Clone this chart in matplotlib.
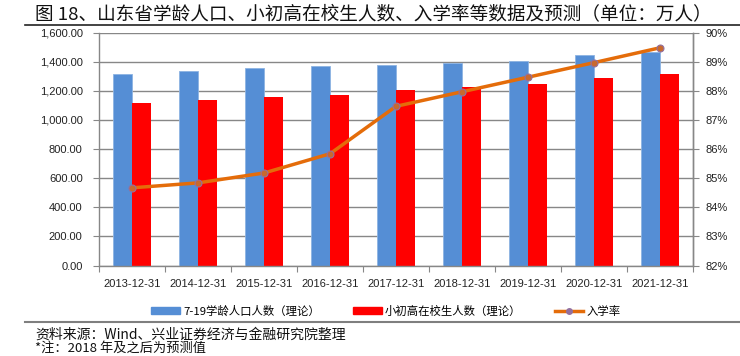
import matplotlib
matplotlib.use("Agg")
import matplotlib.pyplot as plt
import numpy as np
from matplotlib.lines import Line2D

plt.rcParams['font.family'] = ['Liberation Sans', 'Noto Sans CJK SC', 'DejaVu Sans']

categories = ["2013-12-31", "2014-12-31", "2015-12-31", "2016-12-31", "2017-12-31",
              "2018-12-31", "2019-12-31", "2020-12-31", "2021-12-31"]
population = [1315, 1336, 1357, 1370, 1377, 1391, 1405, 1446, 1467]
students = [1115, 1136, 1157, 1170, 1205, 1228, 1246, 1287, 1317]
enroll_rate = [84.67, 84.84, 85.18, 85.84, 87.47, 87.97, 88.47, 88.97, 89.48]

left_ticks = [0, 200, 400, 600, 800, 1000, 1200, 1400, 1600]
right_ticks = [82, 83, 84, 85, 86, 87, 88, 89, 90]

title = "图 18、山东省学龄人口、小初高在校生人数、入学率等数据及预测（单位：万人）"
source = "资料来源：Wind、兴业证券经济与金融研究院整理"
note = "*注：2018 年及之后为预测值"
legend_labels = ["7-19学龄人口人数（理论）", "小初高在校生人数（理论）", "入学率"]

W, H = 740, 356
fig = plt.figure(figsize=(W / 100, H / 100), dpi=100)

ax_l, ax_r, ax_t, ax_b = 99.3, 692.7, 32.7, 265.5
ax = fig.add_axes([ax_l / W, 1 - ax_b / H, (ax_r - ax_l) / W, (ax_b - ax_t) / H])

blue = '#558ED5'
red = '#FF0000'
orange = '#E46C0A'
grid = '#878787'

x = np.arange(len(categories))
bw = 0.29
ax.bar(x - bw / 2, population, width=bw, color=blue, edgecolor='#8DB3E2', linewidth=0.6, zorder=2)
ax.bar(x + bw / 2, students, width=bw, color=red, zorder=2)

ax.set_xlim(-0.5, len(categories) - 0.5)
ax.set_ylim(0, 1600)
ax.set_yticks(left_ticks)
ax.set_yticklabels([f"{v:,.2f}" for v in left_ticks])
ax.yaxis.grid(True, color=grid, linewidth=1.0, zorder=0)
ax.set_axisbelow(True)

ax.set_xticks(np.arange(len(categories) + 1) - 0.5)
ax.set_xticklabels([])
ax.set_xticks(x, minor=True)
ax.set_xticklabels(categories, minor=True)
ax.tick_params(axis='x', which='major', length=4, color=grid, direction='out')
ax.tick_params(axis='x', which='minor', length=0, pad=10, labelsize=8, labelcolor='#222222')
ax.tick_params(axis='y', length=4, color=grid, pad=8, labelsize=8, labelcolor='#222222')

ax.spines['top'].set_visible(False)
for s in ['left', 'bottom', 'right']:
    ax.spines[s].set_color(grid)
    ax.spines[s].set_linewidth(1.0)

ax2 = ax.twinx()
ax2.plot(x, enroll_rate, color=orange, linewidth=2.5, marker='o', markersize=5,
         markerfacecolor='#C8692F', markeredgecolor='#9270A0', markeredgewidth=0.8, zorder=5)
ax2.set_ylim(82, 90)
ax2.set_yticks(right_ticks)
ax2.set_yticklabels([f"{v}%" for v in right_ticks])
ax2.tick_params(axis='y', length=4, color=grid, pad=5, labelsize=8, labelcolor='#222222')
for s in ['top', 'left', 'bottom']:
    ax2.spines[s].set_visible(False)
ax2.spines['right'].set_color(grid)
ax2.spines['right'].set_linewidth(1.0)

# Legend
handles = [
    plt.Rectangle((0, 0), 1, 1, color=blue),
    plt.Rectangle((0, 0), 1, 1, color=red),
    Line2D([0], [0], color=orange, linewidth=2.5, marker='o', markersize=4,
           markerfacecolor='#9270A0', markeredgecolor='#9270A0'),
]
fig.legend(handles, legend_labels, loc='center', bbox_to_anchor=(386 / W, 1 - 311 / H),
           ncol=3, frameon=False, handlelength=2.5, handleheight=0.55,
           handletextpad=0.3, columnspacing=2.9,
           prop={'family': ['Noto Sans CJK SC', 'DejaVu Sans'], 'size': 8.2})

# Title and lines
fig.text(35 / W, 1 - 14 / H, title, fontsize=13.4, va='center', ha='left',
         family=['Noto Sans CJK SC', 'DejaVu Sans'], color='#111111')
fig.add_artist(Line2D([25 / W, 1], [1 - 25 / H, 1 - 25 / H], color='#222222', linewidth=1.2))
fig.add_artist(Line2D([25 / W, 1], [1 - 322 / H, 1 - 322 / H], color='#7F7F7F', linewidth=1.5))
fig.text(35 / W, 1 - 335 / H, source, fontsize=10, va='center', ha='left',
         family=['Noto Sans CJK SC', 'DejaVu Sans'], color='#111111')
fig.text(35 / W, 1 - 348.5 / H, note, fontsize=9.5, va='center', ha='left',
         family=['Noto Sans CJK SC', 'DejaVu Sans'], color='#111111')

fig.savefig("out.png", dpi=100)
